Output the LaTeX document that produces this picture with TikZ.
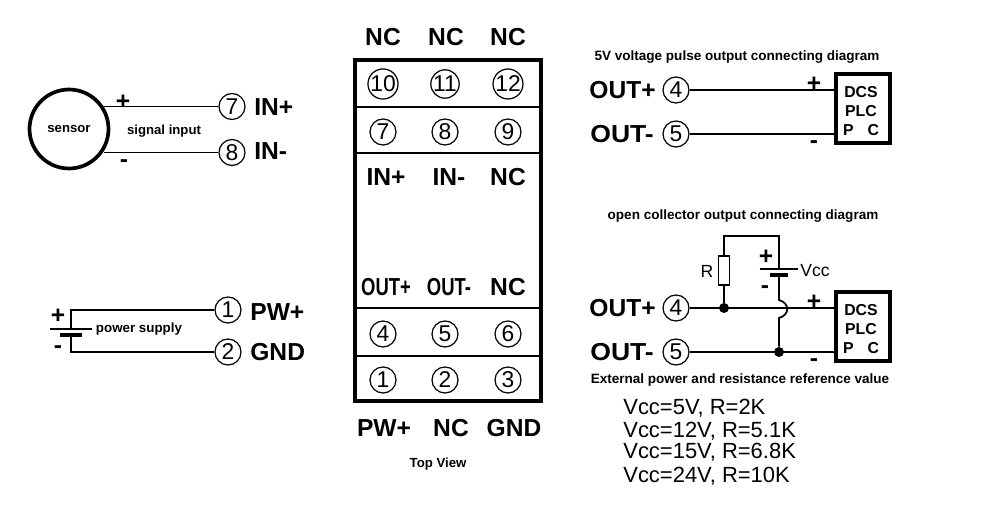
\documentclass[tikz,border=0pt]{standalone}
\usepackage{fontspec}
\setmainfont{Liberation Sans}
\begin{document}
\begin{tikzpicture}[x=0.02cm,y=-0.02cm,
	termc/.style={draw,circle,line width=0.7pt,inner sep=0pt,minimum size=0.52cm,font=\fontsize{13}{13}\selectfont},
	biglab/.style={inner sep=0pt,font=\fontsize{14}{14}\selectfont\bfseries},
	boxlab/.style={inner sep=0pt,font=\fontsize{14}{14}\selectfont\bfseries},
	smalllab/.style={inner sep=0pt,font=\fontsize{7.7}{8}\selectfont\bfseries},
	vcclab/.style={inner sep=0pt,anchor=west,font=\fontsize{12.5}{12.5}\selectfont},
	wire/.style={line width=1pt},
	plc/.style={draw,line width=2.2pt,minimum width=1.08cm,inner sep=0pt},
	plctext/.style={align=center,inner sep=0pt,font=\fontsize{9}{11}\selectfont\bfseries},
	dot/.style={circle,fill,inner sep=0pt,minimum size=0.2cm},
	plate/.style={line width=1.1pt},
	thickplate/.style={line width=2pt}]
\useasboundingbox (0,0) rectangle (1000,526);

% sensor side
\node[draw,circle,line width=2.1pt,minimum size=1.58cm,inner sep=0pt,font=\fontsize{7.5}{8}\selectfont\bfseries] (sensor) at (69,129) {sensor};
\node[termc] (inA) at (232,106.5) {7};
\node[termc] (inB) at (232,152.5) {8};
\draw[wire] (inA.west) -- (inA.west -| sensor.33);
\draw[wire] (inB.west) -- (inB.west -| sensor.-33);
\node[biglab] (plusA) at (123,102) {+};
\node[boxlab] (minusA) at (124,164) {-};
\node[smalllab,font=\fontsize{7.5}{8}\selectfont\bfseries] (siglab) at (164,131) {signal input};
\node[biglab,anchor=west] (inAlab) at (254,107) {IN+};
\node[biglab,anchor=west] (inBlab) at (254,151) {IN-};

% power side
\node[termc] (pwA) at (228,310) {1};
\node[termc] (pwB) at (228,352) {2};
\coordinate (batA) at (71,329);
\coordinate (batB) at (71,335);
\draw[wire] (pwA.west) -| (batA);
\draw[wire] (pwB.west) -| (batB);
\draw[plate] ([xshift=-12]batA) -- ([xshift=12]batA);
\draw[thickplate] ([xshift=-6]batB) -- ([xshift=6]batB);
\node[biglab] (plusB) at (58,316) {+};
\node[boxlab] (minusB) at (58,350) {-};
\node[smalllab,font=\fontsize{7.6}{8}\selectfont\bfseries] (pwrlab) at (139,329) {power supply};
\node[biglab,anchor=west] (pwAlab) at (250,312) {PW+};
\node[biglab,anchor=west] (pwBlab) at (250,352) {GND};

% module
\draw[line width=2.2pt] (355,60) rectangle (541,401);
\coordinate (rowA) at (355,107);
\coordinate (rowB) at (355,153);
\coordinate (rowC) at (355,308);
\coordinate (rowD) at (355,356);
\draw[line width=1.2pt] (rowA) -- ++(186,0);
\draw[line width=1.2pt] (rowB) -- ++(186,0);
\draw[line width=1.2pt] (rowC) -- ++(186,0);
\draw[line width=1.2pt] (rowD) -- ++(186,0);
\node[boxlab] (topA) at (383,37) {NC};
\node[boxlab] (topB) at (446,37) {NC};
\node[boxlab] (topC) at (508,37) {NC};
\node[termc] (t10) at (383,84) {10};
\node[termc] (t11) at (445,84) {11};
\node[termc] (t12) at (508,84) {12};
\node[termc] (t7) at (383,132) {7};
\node[termc] (t8) at (445,132) {8};
\node[termc] (t9) at (508,132) {9};
\node[boxlab] (midA) at (386,177) {IN+};
\node[boxlab] (midB) at (449,177) {IN-};
\node[boxlab] (midC) at (508,177) {NC};
\node[boxlab] (lowA) at (386,287) {\scalebox{.75}[1]{OUT+}};
\node[boxlab] (lowB) at (449,287) {\scalebox{.75}[1]{OUT-}};
\node[boxlab] (lowC) at (508,287) {NC};
\node[termc] (t4) at (383,334) {4};
\node[termc] (t5) at (445,334) {5};
\node[termc] (t6) at (508,334) {6};
\node[termc] (t1) at (383,380) {1};
\node[termc] (t2) at (445,380) {2};
\node[termc] (t3) at (508,380) {3};
\node[boxlab] (botA) at (384,428) {PW+};
\node[boxlab] (botB) at (451,428) {NC};
\node[boxlab] (botC) at (514,428) {GND};
\node[smalllab,font=\fontsize{7.5}{8}\selectfont\bfseries] (topview) at (438,464) {Top View};

% pulse output
\node[smalllab] (pulsetitle) at (737,57) {5V voltage pulse output connecting diagram};
\node[termc] (outA) at (676,90) {4};
\node[termc] (outB) at (676,134) {5};
\node[plc,minimum height=1.38cm] (plcA) at (863,108.5) {};
\node[plctext] (plcAtext) at (861,111) {DCS\\PLC\\P\hspace{8pt}C};
\draw[wire] (outA.east) -- (outA.east -| plcA.west);
\draw[wire] (outB.east) -- (outB.east -| plcA.west);
\node[biglab,anchor=east] (outAlab) at (656,90) {OUT+};
\node[biglab,anchor=west] (outBlab) at (590,134) {\scalebox{1.08}[1]{OUT-}};
\node[biglab] (plusC) at (814,84) {+};
\node[boxlab] (minusC) at (814,145) {-};

% open collector output
\node[smalllab] (opentitle) at (743,216) {open collector output connecting diagram};
\node[termc] (outC) at (676,308) {4};
\node[termc] (outD) at (676,352) {5};
\node[plc,minimum height=1.38cm] (plcB) at (863,326.5) {};
\node[plctext] (plcBtext) at (861,329) {DCS\\PLC\\P\hspace{8pt}C};
\node[dot] (dotA) at (724,308) {};
\node[dot] (dotB) at (779,352) {};
\node[draw,line width=0.9pt,minimum width=0.22cm,minimum height=0.58cm,inner sep=0pt] (res) at (724,270.5) {};
\coordinate (vccA) at (779,269);
\coordinate (vccB) at (779,275);
\coordinate (hopA) at (779,300);
\coordinate (hopB) at (779,318);
\draw[wire] (outC.east) -- (outC.east -| plcB.west);
\draw[wire] (outD.east) -- (outD.east -| plcB.west);
\draw[wire] (dotA) -- (res.south);
\draw[wire] (res.north) |- (779,236) -- (vccA);
\draw[wire] (vccB) -- (hopA) .. controls (790,303) and (790,315) .. (hopB) -- (dotB);
\draw[plate] ([xshift=-11]vccA) -- ([xshift=11]vccA);
\draw[thickplate] ([xshift=-5]vccB) -- ([xshift=5]vccB);
\node[inner sep=0pt,font=\fontsize{10}{10}\selectfont] (rlab) at (707,271) {R};
\node[inner sep=0pt,anchor=west,font=\fontsize{10}{10}\selectfont] (vcclab) at (800,271) {Vcc};
\node[biglab] (plusD) at (766,257) {+};
\node[boxlab] (minusD) at (765,290) {-};
\node[biglab,anchor=east] (outClab) at (656,308) {OUT+};
\node[biglab,anchor=west] (outDlab) at (590,352) {\scalebox{1.08}[1]{OUT-}};
\node[biglab] (plusE) at (814,302) {+};
\node[boxlab] (minusE) at (814,363) {-};

% reference values
\node[smalllab] (reftitle) at (740,380) {External power and resistance reference value};
\node[vcclab] (valA) at (623,408) {Vcc=5V, R=2K};
\node[vcclab] (valB) at (623,431) {Vcc=12V, R=5.1K};
\node[vcclab] (valC) at (623,452) {Vcc=15V, R=6.8K};
\node[vcclab] (valD) at (623,476) {Vcc=24V, R=10K};
\end{tikzpicture}
\end{document}
